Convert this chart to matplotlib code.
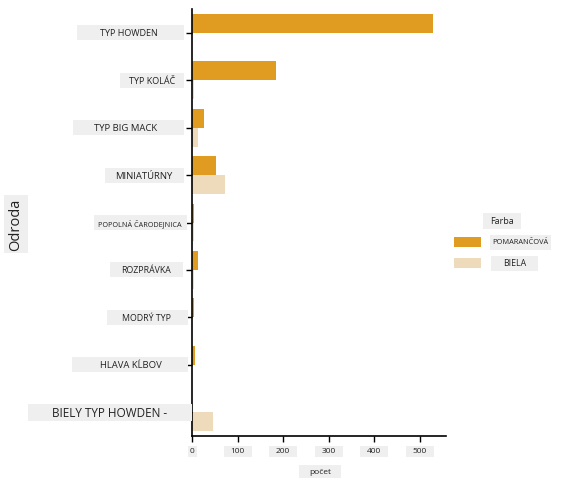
import numpy as np
import matplotlib.pyplot as plt
from matplotlib.patches import Rectangle

# data
odrody = ['TYP HOWDEN', 'TYP KOLÁČ', 'TYP BIG MACK', 'MINIATÚRNY',
          'POPOLNÁ ČARODEJNICA', 'ROZPRÁVKA', 'MODRÝ TYP', 'HLAVA KĹBOV',
          'BIELY TYP HOWDEN -']
pomarancova = [529, 185, 27, 53, 5, 14, 5, 6, 0]
biela = [0, 4, 14, 73, 4, 4, 0, 0, 47]
x_ticks = [0, 100, 200, 300, 400, 500]
farby = ['POMARANČOVÁ', 'BIELA']

W, H = 564, 489
fig = plt.figure(figsize=(W / 100, H / 100), dpi=100)
plt.rcParams['font.family'] = ['Open Sans', 'DejaVu Sans']

ax = fig.add_axes([192 / W, 1 - 437 / H, (446 - 192) / W, (437 - 10) / H])
c_orange = '#DF9C20'
c_white = '#EDDBBB'
y = np.arange(len(odrody))
ax.barh(y - 0.2, pomarancova, height=0.4, color=c_orange)
ax.barh(y + 0.2, biela, height=0.4, color=c_white)
ax.set_ylim(len(odrody) - 0.5, -0.5)
ax.set_xlim(0, 557)
ax.set_yticks(y)
ax.set_yticklabels([])
ax.set_xticks(x_ticks)
ax.set_xticklabels([])
ax.spines['top'].set_visible(False)
ax.spines['right'].set_visible(False)
ax.spines['left'].set_linewidth(1.2)
ax.spines['bottom'].set_linewidth(1.2)
ax.tick_params(length=4, width=1)

BOX = '#efefef'
TXT = '#222222'


def boxed(x0, x1, cy, h, text, size, tx=None, rot=0):
    # box in pixel coords (y from top)
    fig.patches.append(Rectangle((x0 / W, 1 - (cy + h / 2) / H), (x1 - x0) / W, h / H,
                                 transform=fig.transFigure, facecolor=BOX,
                                 edgecolor='none', zorder=0))
    if tx is None:
        tx = (x0 + x1) / 2
    fig.text(tx / W, 1 - cy / H, text, ha='center', va='center', fontsize=size,
             color=TXT, rotation=rot)


fig.canvas.draw()

# y tick labels
box_x = [(77, 184), (120, 184), (73, 184), (105, 184), (94, 187),
         (110, 183), (107, 188), (72, 188), (28, 192)]
txt_x = [129, 152, 126, 144, 140, 146, 146, 131, 110]
sizes = [6.5, 6.5, 6.8, 6.8, 5.2, 6.3, 6.3, 6.8, 8.5]
for i, lab in enumerate(odrody):
    cy = H - ax.transData.transform((0, i))[1]
    hh = 17 if sizes[i] >= 8 else 15
    boxed(box_x[i][0], box_x[i][1], cy, hh, lab, sizes[i], tx=txt_x[i])

# x tick labels
for t in x_ticks:
    cx = ax.transData.transform((t, 0))[0]
    w = 9 if t == 0 else 28
    boxed(cx - w / 2, cx + w / 2, 452, 11, str(t), 6)

boxed(299, 341, 472, 13, 'počet', 6)
boxed(4, 28, 225, 58, 'Odroda', 10.5, rot=90)

# legend
boxed(483, 521, 222, 15, 'Farba', 6.5)
for c, lab, cy, bx in zip([c_orange, c_white], farby, [243, 264], [(490, 551), (491, 538)]):
    fig.patches.append(Rectangle((454 / W, 1 - (cy + 5) / H), 27 / W, 10 / H,
                                 transform=fig.transFigure, facecolor=c,
                                 edgecolor='none'))
    boxed(bx[0], bx[1], cy, 15, lab, 5.3 if lab == 'POMARANČOVÁ' else 6.3)

plt.savefig('out.png', dpi=100)
